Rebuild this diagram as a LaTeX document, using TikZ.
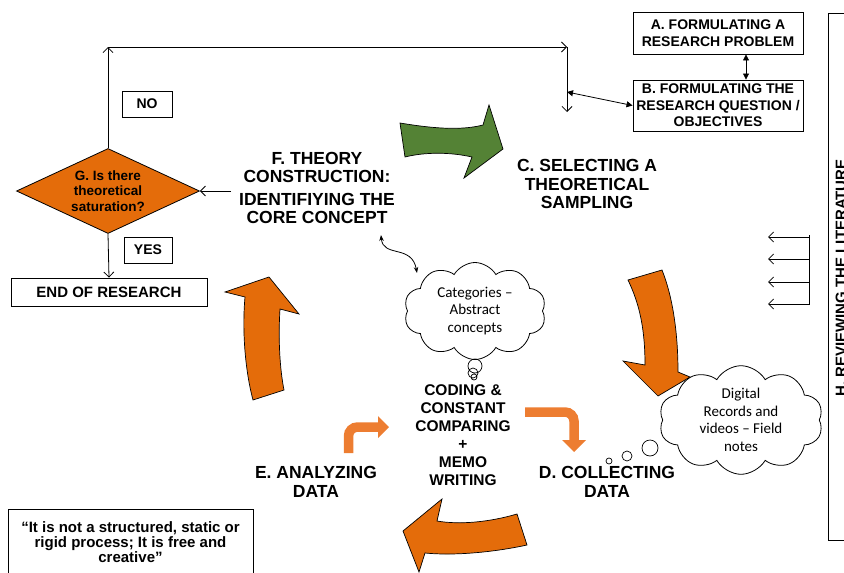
\documentclass[tikz,border=0pt]{standalone}
\usepackage{fontspec}
\setmainfont{Liberation Sans}
\newfontfamily\calfont{Carlito}
\usetikzlibrary{shapes.geometric,shapes.symbols,arrows.meta}
\definecolor{org}{HTML}{E46C0A}
\definecolor{lorg}{HTML}{ED7D31}
\definecolor{grn}{HTML}{548235}
\begin{document}
\begin{tikzpicture}[x=1pt,y=-1pt,
  box/.style={draw, line width=0.9pt, inner sep=0pt, align=center, font=\bfseries\fontsize{14}{16.5}\selectfont},
  lbl/.style={align=center, font=\bfseries\fontsize{17.5}{18.5}\selectfont},
  bub/.style={cloud, cloud puffs=10, cloud puff arc=120, aspect=1.5, draw, line width=0.8pt, align=center, font=\calfont\fontsize{15}{17.5}\selectfont, inner sep=0pt},
  blk/.style={draw, line width=0.7pt, fill=org},
  open/.style={-{Straight Barb[length=5pt,width=10pt]}, line width=0.8pt},
  dbl/.style={{Triangle[length=6pt,width=6pt]}-{Triangle[length=6pt,width=6pt]}, line width=0.8pt},
  bent/.style={line width=9.5pt, draw=lorg, rounded corners=9pt},
]
\useasboundingbox (0,0) rectangle (844,573);
\clip (0,0) rectangle (844,573);

% boxes top right
\node[box, minimum width=170pt, minimum height=42pt] (A) at (718,33) {A. FORMULATING A\\RESEARCH PROBLEM};
\node[box, minimum width=170pt, minimum height=51pt] (B) at (718,105.5) {B. FORMULATING THE\\RESEARCH QUESTION /\\OBJECTIVES};
\draw[dbl] ([xshift=28pt]A.south) -- ([xshift=28pt]B.north);

% literature box
\draw[line width=0.9pt] (828,13) rectangle (880,540);
\node[rotate=90, font=\bfseries\fontsize{15}{16}\selectfont] (H) at (841,278) {H. REVIEWING THE LITERATURE};
\coordinate (r0) at (809,235);
\coordinate (r5) at (809,305);
\draw[line width=0.8pt] (r0) -- (r5);
\foreach \yy in {237,259,282,304}{
  \coordinate (ra) at (809,\yy);
  \coordinate (rb) at (768,\yy);
  \draw[open] (ra) -- (rb);
}

% decision
\node[diamond, draw, fill=org, line width=0.8pt, minimum width=183pt, minimum height=85pt, aspect=2.15, inner sep=0pt, align=center, font=\bfseries\fontsize{13.5}{15.8}\selectfont] (G) at (108,191) {G. Is there\\theoretical\\saturation?};
\node[box, minimum width=50pt, minimum height=26pt] (NO) at (147,104) {NO};
\node[box, minimum width=48pt, minimum height=26pt] (YES) at (148,250) {YES};
\node[box, minimum width=196pt, minimum height=28pt, font=\bfseries\fontsize{15}{16}\selectfont] (END) at (109,292) {END OF RESEARCH};

\coordinate (c1) at (108,47);
\coordinate (c2) at (567,47);
\coordinate (c3) at (567,112);
\coordinate (c4) at (567,92);
\draw[open] (G.north) -- (c1);
\draw[open] (c1) -- (c2);
\draw[open] (c2) -- (c3);
\draw[dbl] (c4) -- (B.west);
\coordinate (fg) at (231,191);
\draw[open] (fg) -- (G.east);
\draw[open] (G.south) -- (END.north);

% main labels
\node[lbl] (F) at (317,188) {F. THEORY\\CONSTRUCTION:\\[4pt]IDENTIFIYING THE\\CORE CONCEPT};
\node[lbl] (C) at (587,184) {C. SELECTING A\\THEORETICAL\\SAMPLING};
\node[lbl] (D) at (607,482) {D. COLLECTING\\DATA};
\node[lbl] (E) at (316,482) {E. ANALYZING\\DATA};
\node[align=center, font=\bfseries\fontsize{15.5}{18}\selectfont] (K) at (463,435) {CODING \&\\CONSTANT\\COMPARING\\+\\MEMO\\WRITING};

% quote box
\node[box, anchor=north, minimum width=245pt, minimum height=66pt, font=\bfseries\fontsize{15}{15}\selectfont] (Q) at (130.5,509) {“It is not a structured, static or\\rigid process; It is free and\\creative”};

% clouds
\node[bub, minimum width=142pt, minimum height=97pt] (CL1) at (475,311) {Categories –\\Abstract\\concepts};
\draw[line width=0.7pt] (475,366) circle (7) (473,373) circle (5) (474,377) circle (3);
\node[bub, minimum width=164pt, minimum height=97pt] (CL2) at (741,420) {Digital\\Records and\\videos – Field\\notes};
\draw[line width=0.7pt] (650,448) circle (8) (627,456) circle (5) (609,461) circle (3);

\coordinate (fa) at (381,235);
\coordinate (fb) at (417,273);
\draw[{Stealth[length=6pt]}-{Stealth[length=6pt]}, line width=0.8pt] (fa) .. controls (383,258) and (412,244) .. (fb);

% green arrow
\draw[line width=0.7pt, fill=grn] (400,123) .. controls (430,128) and (460,131) .. (483,125)
  -- (489,105) -- (503,149) -- (464,178) -- (472,157)
  .. controls (450,152) and (425,152) .. (405,157) -- cycle;

% orange arrow C->D
\draw[blk] (628,280) -- (662,270) .. controls (672,295) and (678,330) .. (678,372)
  -- (690,377) -- (658,396) -- (623,361) -- (645,365)
  .. controls (645,330) and (640,305) .. (628,280) -- cycle;

% orange arrow D->E
\draw[blk] (517,514) -- (527,545) .. controls (495,552) and (455,556) .. (425,553)
  -- (419,572) -- (403,531) -- (442,499) -- (437,521)
  .. controls (460,525) and (490,522) .. (517,514) -- cycle;

% orange arrow E->F
\draw[blk] (225,292) -- (269,277) -- (299,314) -- (280,309)
  .. controls (278,340) and (280,370) .. (284,390) -- (253,400)
  .. controls (245,370) and (242,330) .. (245,297) -- cycle;

% small bent arrows
\draw[bent] (348.5,453) -- (348.5,427) -- (379,427);
\fill[lorg] (378,416) -- (389,427) -- (378,438) -- cycle;
\draw[bent] (525,412) -- (574,412) -- (574,441);
\fill[lorg] (562,440) -- (586,440) -- (574,452) -- cycle;
\end{tikzpicture}
\end{document}
